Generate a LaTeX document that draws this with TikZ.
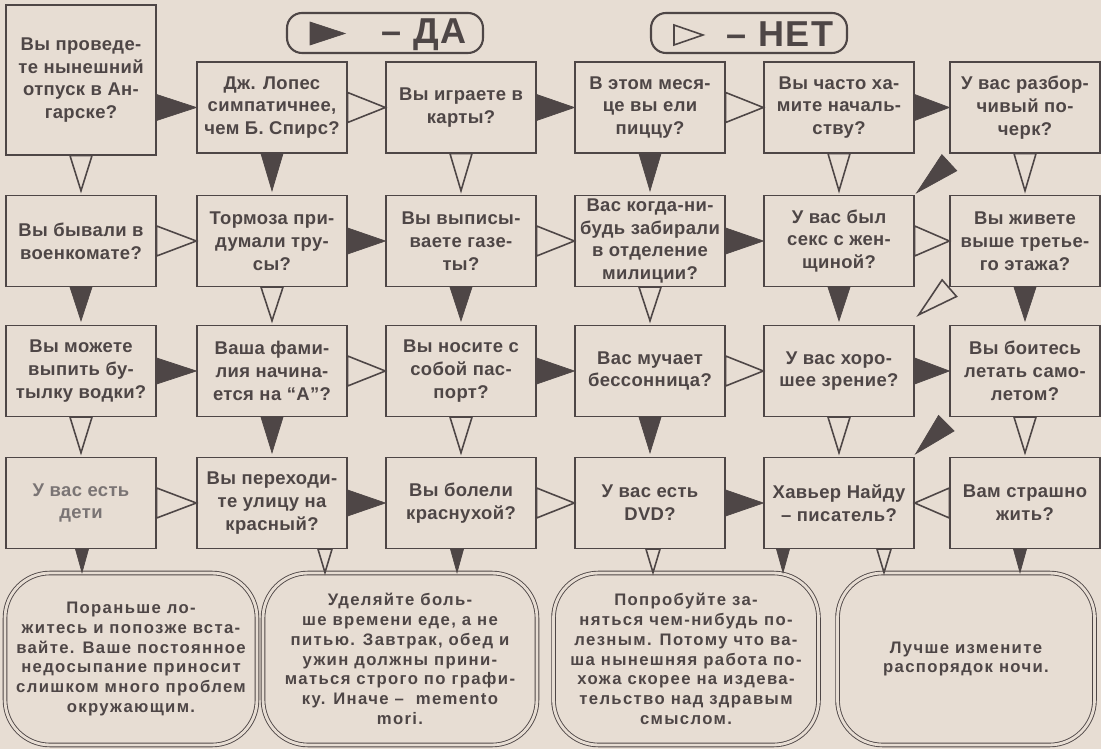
\documentclass[tikz,border=0pt]{standalone}
\usepackage{fontspec}
\setmainfont{Liberation Sans}
\newfontfamily\qfont{Liberation Sans}[LetterSpace=2]
\newfontfamily\afont{Liberation Sans}[LetterSpace=8]
\newfontfamily\lfont{Liberation Sans}[LetterSpace=5]
\usetikzlibrary{calc,positioning}

\definecolor{paper}{RGB}{231,221,211}
\definecolor{ink}{RGB}{78,70,70}

\tikzset{
  quest/.style={draw=ink,line width=0.8pt,fill=paper,text=ink,inner sep=0pt,
    minimum width=3cm,minimum height=1.82cm,align=center,
    font=\qfont\bfseries\fontsize{10.5}{13}\selectfont},
  advice/.style={draw=ink,line width=0.5pt,double=paper,double distance=1.6pt,
    rounded corners=0.9cm,inner sep=0pt,minimum height=3.44cm,align=center,
    text=ink,font=\afont\bfseries\fontsize{9.5}{11.3}\selectfont},
  legend/.style={draw=ink,line width=1.2pt,rounded corners=0.3cm,inner sep=0pt,
    minimum width=3.92cm,minimum height=0.8cm},
  yesarr/.style={fill=ink,draw=ink,line width=0.4pt,line join=miter},
  noarr/.style={fill=paper,draw=ink,line width=0.9pt,line join=miter}
}
% triangle: base at #2, tip at #3, half base #4
\newcommand\arr[4]{\path[#1] ($(#2)!#4!90:(#3)$) -- (#3) -- ($(#2)!#4!-90:(#3)$) -- cycle;}

\begin{document}
\begin{tikzpicture}[x=0.02cm,y=-0.02cm]
    \fill[paper] (0,0) rectangle (1101,749);
    \useasboundingbox (0,0) rectangle (1101,749);

    % legend
    \node[legend] (legyes) at (385,33) {};
    \node[legend] (legno) at (749,33) {};
    \arr{yesarr}{310,33.5}{345,33.5}{0.23cm}
    \arr{noarr}{674,35}{703,35}{0.2cm}
    \node[text=ink,font=\lfont\bfseries\fontsize{20.5}{20}\selectfont] (yestxt) at (424,34.5) {– ДА};
    \node[text=ink,font=\lfont\bfseries\fontsize{20.5}{20}\selectfont] (notxt) at (780,34.5) {– НЕТ};

    % row 1
    \node[quest,minimum height=3cm] (A1) at (81,80) {Вы проведе-\\те нынешний\\отпуск в Ан-\\гарске?};
    \node[quest] (B1) at (272,107.5) {Дж. Лопес\\симпатичнее,\\чем Б. Спирс?};
    \node[quest] (C1) at (461,107.5) {Вы играете в\\карты?};
    \node[quest] (D1) at (650,107.5) {В этом меся-\\це вы ели\\пиццу?};
    \node[quest] (E1) at (839,107.5) {Вы часто ха-\\мите началь-\\ству?};
    \node[quest] (F1) at (1025,107.5) {У вас разбор-\\чивый по-\\черк?};

    % row 2
    \node[quest] (A2) at (81,241) {Вы бывали в\\военкомате?};
    \node[quest] (B2) at (272,241) {Тормоза при-\\думали тру-\\сы?};
    \node[quest] (C2) at (461,241) {Вы выписы-\\ваете газе-\\ты?};
    \node[quest] (D2) at (650,241) {Вас когда-ни-\\будь забирали\\в отделение\\милиции?};
    \node[quest] (E2) at (839,241) {У вас был\\секс с жен-\\щиной?};
    \node[quest] (F2) at (1025,241) {Вы живете\\выше третье-\\го этажа?};

    % row 3
    \node[quest] (A3) at (81,371) {Вы можете\\выпить бу-\\тылку водки?};
    \node[quest] (B3) at (272,371) {Ваша фами-\\лия начина-\\ется на “А”?};
    \node[quest] (C3) at (461,371) {Вы носите с\\собой пас-\\порт?};
    \node[quest] (D3) at (650,371) {Вас мучает\\бессонница?};
    \node[quest] (E3) at (839,371) {У вас хоро-\\шее зрение?};
    \node[quest] (F3) at (1025,371) {Вы боитесь\\летать само-\\летом?};

    % row 4
    \node[quest,text=ink!75] (A4) at (81,503) {У вас есть\\дети};
    \node[quest] (B4) at (272,503) {Вы переходи-\\те улицу на\\красный?};
    \node[quest] (C4) at (461,503) {Вы болели\\краснухой?};
    \node[quest] (D4) at (650,503) {У вас есть\\DVD?};
    \node[quest] (E4) at (839,503) {Хавьер Найду\\– писатель?};
    \node[quest] (F4) at (1025,503) {Вам страшно\\жить?};

    % answers
    \node[advice,minimum width=5.04cm] (R1) at (131,659) {Пораньше ло-\\житесь и попозже вста-\\вайте. Ваше постоянное\\недосыпание приносит\\слишком много проблем\\окружающим.};
    \node[advice,minimum width=5.48cm] (R2) at (400,659) {Уделяйте боль-\\ше времени еде, а не\\питью. Завтрак, обед и\\ужин должны прини-\\маться строго по графи-\\ку. Иначе – \ memento\\mori.};
    \node[advice,minimum width=5.3cm] (R3) at (686,659) {Попробуйте за-\\няться чем-нибудь по-\\лезным. Потому что ва-\\ша нынешняя работа по-\\хожа скорее на издева-\\тельство над здравым\\смыслом.};
    \node[advice,minimum width=5.14cm] (R4) at (966,659) {Лучше измените\\распорядок ночи.};

    % across
    \arr{yesarr}{A1.east |- B1.east}{B1.west}{0.26cm}
    \foreach \from/\to in {C1/D1,E1/F1,B2/C2,D2/E2,A3/B3,C3/D3,E3/F3,B4/C4,D4/E4}
        {\arr{yesarr}{\from.east}{\to.west}{0.26cm}}
    \foreach \from/\to in {B1/C1,D1/E1,A2/B2,C2/D2,E2/F2,B3/C3,D3/E3,A4/B4,C4/D4}
        {\arr{noarr}{\from.east}{\to.west}{0.3cm}}
    \arr{noarr}{F4.west}{E4.east}{0.3cm}

    % down
    \foreach \from/\to in {B1/B2,D1/D2,A2/A3,C2/C3,E2/E3,F2/F3,B3/B4,D3/D4}
        {\arr{yesarr}{\from.south}{[yshift=0.08cm]\to.north}{0.22cm}}
    \foreach \from/\to in {A1/A2,C1/C2,E1/E2,F1/F2,B2/B3,D2/D3,A3/A4,C3/C4,E3/E4,F3/F4}
        {\arr{noarr}{\from.south}{[yshift=0.08cm]\to.north}{0.22cm}}

    % slanted
    \arr{yesarr}{[yshift=-0.18cm]F1.south west}{[xshift=0.04cm,yshift=0.04cm]E2.north east}{0.22cm}
    \arr{noarr}{[yshift=-0.02cm]F2.south west}{[xshift=0.08cm,yshift=0.2cm]E3.north east}{0.22cm}
    \arr{yesarr}{[xshift=-0.06cm,yshift=-0.12cm]F3.south west}{[xshift=0.02cm,yshift=0.06cm]E4.north east}{0.22cm}

    % to the answers
    \coordinate (a4y) at ([xshift=0.02cm]A4.south);
    \coordinate (b4n) at ([xshift=1.06cm]B4.south);
    \coordinate (c4y) at ([xshift=-0.08cm]C4.south);
    \coordinate (d4n) at ([xshift=0.06cm]D4.south);
    \coordinate (e4y) at ([xshift=-1.12cm]E4.south);
    \coordinate (e4n) at ([xshift=0.9cm]E4.south);
    \coordinate (f4y) at ([xshift=-0.1cm]F4.south);
    \foreach \from/\to in {a4y/R1,c4y/R2,e4y/R3,f4y/R4}
        {\arr{yesarr}{\from}{\from |- \to.north}{0.13cm}}
    \foreach \from/\to in {b4n/R2,d4n/R3,e4n/R4}
        {\arr{noarr}{\from}{\from |- \to.north}{0.14cm}}
\end{tikzpicture}
\end{document}
